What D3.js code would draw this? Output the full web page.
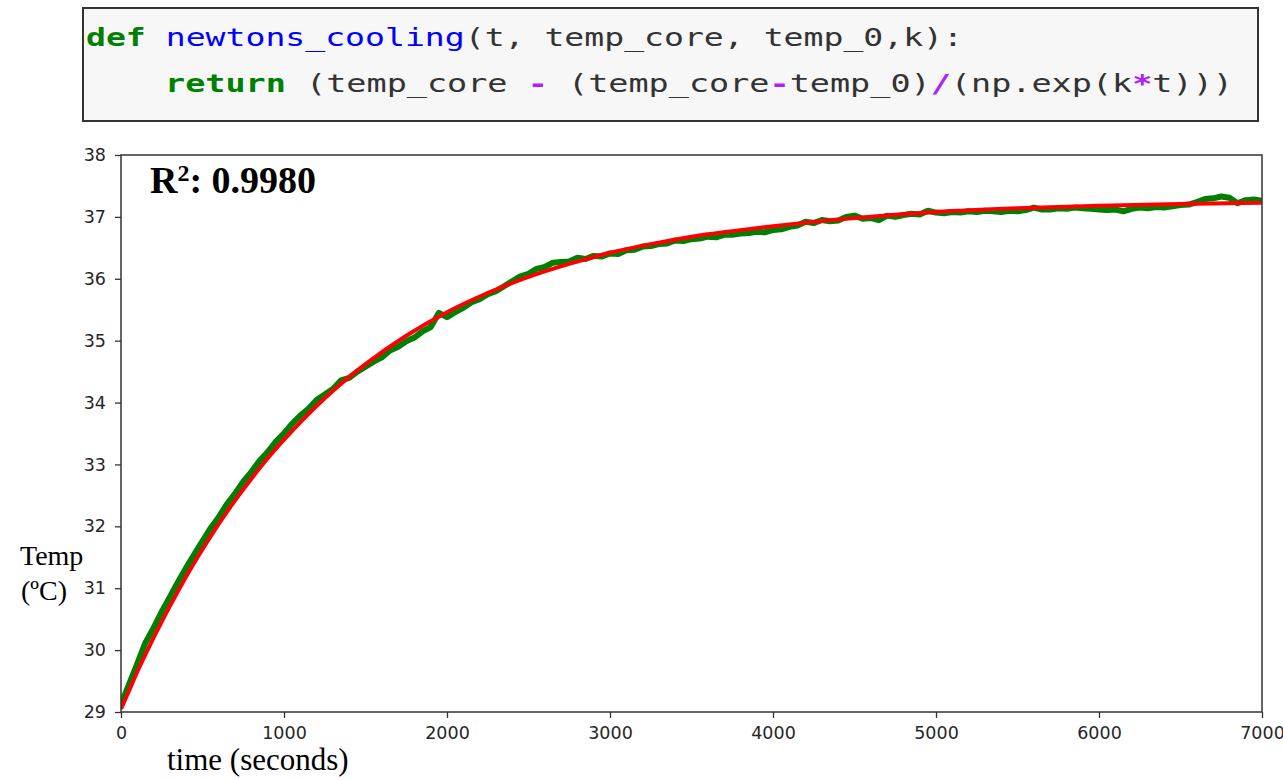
<!DOCTYPE html>
<html>
<head>
<meta charset="utf-8">
<script src="https://cdn.jsdelivr.net/npm/d3@7"></script>
<style>
  body { margin: 0; background: #fff; }
  svg { display: block; }
</style>
</head>
<body>
<svg id="chart" width="1283" height="780"></svg>
<script>
// measured temperature, one sample every 50 s from t = 0
const sampleInterval = 50;
const tempData = [
  29.12, 29.45, 29.78, 30.12, 30.36, 30.62, 30.86, 31.10, 31.33, 31.55,
  31.76, 31.97, 32.15, 32.36, 32.53, 32.72, 32.88, 33.06, 33.20, 33.37,
  33.50, 33.66, 33.79, 33.90, 34.04, 34.13, 34.22, 34.36, 34.40, 34.50,
  34.58, 34.66, 34.73, 34.84, 34.90, 34.99, 35.05, 35.15, 35.22, 35.45,
  35.38, 35.46, 35.53, 35.62, 35.67, 35.75, 35.80, 35.88, 35.96, 36.04,
  36.08, 36.16, 36.19, 36.26, 36.27, 36.28, 36.34, 36.32, 36.37, 36.36,
  36.41, 36.40, 36.46, 36.47, 36.52, 36.53, 36.56, 36.57, 36.62, 36.61,
  36.64, 36.65, 36.68, 36.67, 36.71, 36.71, 36.73, 36.74, 36.76, 36.75,
  36.79, 36.80, 36.84, 36.86, 36.92, 36.90, 36.95, 36.93, 36.94, 37.00,
  37.02, 36.97, 36.98, 36.95, 37.02, 37.00, 37.03, 37.05, 37.04, 37.10,
  37.07, 37.06, 37.08, 37.07, 37.09, 37.08, 37.10, 37.09, 37.08, 37.10,
  37.09, 37.11, 37.15, 37.12, 37.12, 37.14, 37.13, 37.15, 37.14, 37.13,
  37.12, 37.11, 37.12, 37.09, 37.13, 37.15, 37.14, 37.16, 37.15, 37.17,
  37.19, 37.20, 37.24, 37.29, 37.30, 37.33, 37.31, 37.22, 37.27, 37.28,
  37.26
];

// fitted curve
const fitTime = [0, 50, 100, 150, 200, 250, 300, 400, 500, 600, 700, 800, 900, 1000,
  1250, 1500, 1750, 2000, 2250, 2500, 2750, 3000, 3250, 3500, 3750, 4000,
  4500, 5000, 5500, 6000, 6500, 7000];
const fitTemp = [29.05, 29.35, 29.65, 29.93, 30.20, 30.46, 30.71, 31.19, 31.63, 32.04, 32.42, 32.77, 33.10, 33.40,
  34.07, 34.62, 35.08, 35.46, 35.77, 36.03, 36.24, 36.42, 36.56, 36.68, 36.77, 36.85,
  36.98, 37.08, 37.14, 37.18, 37.21, 37.23];

const xTicks = [0, 1000, 2000, 3000, 4000, 5000, 6000, 7000];
const yTicks = [29, 30, 31, 32, 33, 34, 35, 36, 37, 38];

const codeLines = [
  [["def", "kw"], [" ", "tx"], ["newtons_cooling", "fn"], ["(t, temp_core, temp_0,k):", "tx"]],
  [["return", "kw"], [" (temp_core ", "tx"], ["-", "op"], [" (temp_core", "tx"], ["-", "op"],
   ["temp_0)", "tx"], ["/", "op"], ["(np.exp(k", "tx"], ["*", "op"], ["t)))", "tx"]]
];

class CoolingChart {
  constructor(_config) {
    this.config = {
      parentElement: _config.parentElement,
      plot: _config.plot || { left: 121, right: 1262, top: 155, bottom: 712 }
    };
    this.initVis();
  }

  initVis() {
    let vis = this;
    let p = vis.config.plot;
    vis.svg = d3.select(vis.config.parentElement);

    vis.x = d3.scaleLinear().domain([0, 7000]).range([p.left, p.right]);
    vis.y = d3.scaleLinear().domain([29, 38]).range([p.bottom, p.top]);

    vis.svg.append("defs").append("clipPath").attr("id", "plot-clip")
      .append("rect")
      .attr("x", p.left).attr("y", p.top)
      .attr("width", p.right - p.left).attr("height", p.bottom - p.top);

    vis.renderCode();
    vis.renderVis();
  }

  renderCode() {
    let vis = this;
    vis.svg.append("rect")
      .attr("x", 83).attr("y", 8)
      .attr("width", 1175).attr("height", 113)
      .attr("fill", "#f7f7f7")
      .attr("stroke", "#333")
      .attr("stroke-width", 2);

    const colors = { kw: "#008000", fn: "#0000ff", tx: "#333333", op: "#aa22ff" };
    const lineX = [86, 165];
    const lineY = [46, 92];
    const lineW = [877, 1068];

    codeLines.forEach((tokens, i) => {
      const t = vis.svg.append("text")
        .attr("x", lineX[i]).attr("y", lineY[i])
        .attr("font-family", "'DejaVu Sans Mono', monospace")
        .attr("font-size", 25)
        .attr("textLength", lineW[i])
        .attr("lengthAdjust", "spacingAndGlyphs")
        .attr("xml:space", "preserve");
      t.selectAll("tspan")
        .data(tokens)
        .join("tspan")
        .attr("fill", d => colors[d[1]])
        .attr("font-weight", d => (d[1] === "kw" || d[1] === "op") ? "bold" : "normal")
        .text(d => d[0]);
    });
  }

  renderVis() {
    let vis = this;
    let p = vis.config.plot;

    const xAxis = d3.axisBottom(vis.x).tickValues(xTicks).tickFormat(d3.format("d"))
      .tickSize(6).tickSizeOuter(0).tickPadding(9);
    const yAxis = d3.axisLeft(vis.y).tickValues(yTicks).tickFormat(d3.format("d"))
      .tickSize(6).tickSizeOuter(0).tickPadding(9);

    const gx = vis.svg.append("g").attr("transform", `translate(0,${p.bottom})`).call(xAxis);
    const gy = vis.svg.append("g").attr("transform", `translate(${p.left},0)`).call(yAxis);
    [gx, gy].forEach(g => {
      g.select(".domain").remove();
      g.selectAll(".tick line").attr("stroke", "#333").attr("stroke-width", 1.3);
      g.selectAll(".tick text")
        .attr("fill", "#262626")
        .attr("font-family", "'DejaVu Sans', sans-serif")
        .attr("font-size", 17.5);
    });

    const clipped = vis.svg.append("g").attr("clip-path", "url(#plot-clip)");

    const dataLine = d3.line()
      .x((d, i) => vis.x(i * sampleInterval))
      .y(d => vis.y(d));
    clipped.append("path")
      .datum(tempData)
      .attr("d", dataLine)
      .attr("fill", "none")
      .attr("stroke", "#008000")
      .attr("stroke-width", 6)
      .attr("stroke-linejoin", "round");

    const fitLine = d3.line()
      .x(d => vis.x(d[0]))
      .y(d => vis.y(d[1]))
      .curve(d3.curveMonotoneX);
    clipped.append("path")
      .datum(fitTime.map((t, i) => [t, fitTemp[i]]))
      .attr("d", fitLine)
      .attr("fill", "none")
      .attr("stroke", "#ff0000")
      .attr("stroke-width", 4);

    vis.svg.append("rect")
      .attr("x", p.left).attr("y", p.top)
      .attr("width", p.right - p.left).attr("height", p.bottom - p.top)
      .attr("fill", "none")
      .attr("stroke", "#333")
      .attr("stroke-width", 1.5);

    const r2 = vis.svg.append("text")
      .attr("x", 150).attr("y", 193)
      .attr("font-family", "'Liberation Serif', 'Times New Roman', serif")
      .attr("font-weight", "bold")
      .attr("font-size", 38)
      .attr("fill", "#000");
    r2.append("tspan").text("R");
    r2.append("tspan").attr("font-size", 24).attr("dy", -12).text("2");
    r2.append("tspan").attr("dy", 12).text(": 0.9980");

    const serif = "'Liberation Serif', 'Times New Roman', serif";
    vis.svg.append("text").attr("x", 20).attr("y", 565)
      .attr("font-family", serif).attr("font-size", 28).text("Temp");
    vis.svg.append("text").attr("x", 21).attr("y", 600)
      .attr("font-family", serif).attr("font-size", 28).text("(ºC)");
    vis.svg.append("text").attr("x", 167).attr("y", 770)
      .attr("font-family", serif).attr("font-size", 31).text("time (seconds)");
  }
}

new CoolingChart({ parentElement: "#chart" });
</script>
</body>
</html>
